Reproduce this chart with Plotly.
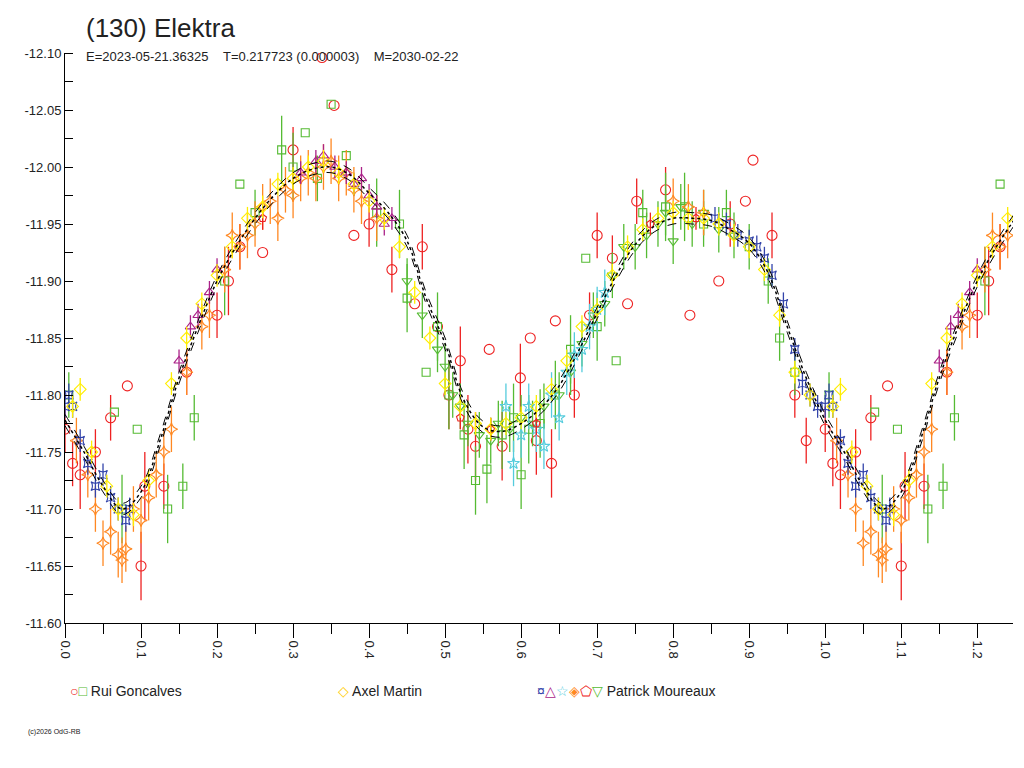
import plotly.graph_objects as go

FONT = "Liberation Sans"

# fitted curve
curve_ph = [0.0,0.025,0.05,0.075,0.1,0.125,0.15,0.175,0.2,0.225,0.25,0.275,0.3,0.325,0.35,0.375,0.4,0.425,0.45,0.475,0.5,0.525,0.55,0.575,0.6,0.625,0.65,0.675,0.7,0.725,0.75,0.775,0.8,0.825,0.85,0.875,0.9,0.925,0.95,0.975,1.0,1.025,1.05,1.075,1.1,1.125,1.15,1.175,1.2,1.225,1.25]
curve_mag = [-11.778,-11.750,-11.720,-11.700,-11.715,-11.760,-11.815,-11.860,-11.900,-11.930,-11.955,-11.975,-11.990,-11.998,-12.000,-11.993,-11.977,-11.960,-11.935,-11.885,-11.845,-11.795,-11.772,-11.768,-11.775,-11.788,-11.808,-11.838,-11.872,-11.905,-11.932,-11.948,-11.955,-11.955,-11.953,-11.945,-11.933,-11.907,-11.860,-11.815,-11.778,-11.750,-11.720,-11.700,-11.715,-11.760,-11.815,-11.860,-11.900,-11.930,-11.955]
env = 0.005

# Rui Goncalves - circles
rc_ph = [0.0,0.01,0.02,0.04,0.06,0.082,0.1,0.105,0.13,0.16,0.2,0.215,0.23,0.26,0.3,0.338,0.354,0.38,0.4,0.43,0.46,0.47,0.49,0.505,0.52,0.53,0.54,0.558,0.575,0.599,0.612,0.62,0.64,0.645,0.67,0.69,0.7,0.72,0.74,0.752,0.79,0.822,0.86,0.875,0.895,0.905,0.93,0.96,0.975]
rc_mag = [-11.77,-11.74,-11.73,-11.75,-11.78,-11.808,-11.65,-11.72,-11.72,-11.82,-11.87,-11.90,-11.93,-11.925,-12.015,-12.096,-12.054,-11.94,-11.95,-11.91,-11.88,-11.93,-11.86,-11.80,-11.83,-11.77,-11.755,-11.84,-11.755,-11.815,-11.85,-11.76,-11.74,-11.865,-11.80,-11.87,-11.94,-11.92,-11.88,-11.97,-11.98,-11.87,-11.90,-11.95,-11.97,-12.006,-11.94,-11.80,-11.76]
rc_err = [0.02,0.02,0.03,0.02,0.02,0.0,0.03,0.03,0.02,0.02,0.02,0.03,0.02,0.0,0.02,0.0,0.0,0.0,0.02,0.02,0.0,0.02,0.0,0.03,0.03,0.03,0.03,0.0,0.03,0.03,0.0,0.03,0.03,0.0,0.02,0.02,0.02,0.02,0.0,0.02,0.02,0.0,0.0,0.02,0.0,0.0,0.02,0.02,0.02]

# Rui Goncalves - squares
rs_ph = [0.005,0.065,0.075,0.095,0.135,0.155,0.17,0.21,0.23,0.25,0.285,0.3,0.316,0.332,0.35,0.37,0.41,0.44,0.45,0.475,0.49,0.505,0.525,0.54,0.555,0.575,0.59,0.6,0.61,0.625,0.645,0.665,0.685,0.7,0.725,0.76,0.79,0.815,0.84,0.87,0.9,0.925,0.94,0.96]
rs_mag = [-11.80,-11.785,-11.70,-11.77,-11.70,-11.72,-11.78,-11.90,-11.985,-11.96,-12.015,-12.0,-12.03,-11.99,-12.055,-12.01,-11.96,-11.95,-11.885,-11.82,-11.86,-11.80,-11.765,-11.725,-11.735,-11.765,-11.78,-11.73,-11.77,-11.775,-11.80,-11.84,-11.92,-11.86,-11.83,-11.96,-11.965,-11.965,-11.95,-11.96,-11.93,-11.90,-11.85,-11.82]
rs_err = [0.02,0.0,0.03,0.0,0.03,0.02,0.02,0.03,0.0,0.02,0.03,0.03,0.0,0.02,0.0,0.0,0.03,0.03,0.03,0.0,0.03,0.03,0.03,0.03,0.03,0.03,0.03,0.03,0.03,0.03,0.03,0.03,0.0,0.03,0.0,0.02,0.03,0.03,0.02,0.02,0.02,0.02,0.02,0.02]

# Axel Martin - diamonds
am_ph = [0.01,0.02,0.035,0.055,0.07,0.09,0.11,0.14,0.16,0.18,0.2,0.22,0.24,0.26,0.28,0.3,0.32,0.34,0.36,0.38,0.4,0.42,0.44,0.46,0.48,0.5,0.52,0.54,0.56,0.58,0.6,0.62,0.64,0.66,0.68,0.7,0.72,0.74,0.76,0.78,0.8,0.82,0.84,0.86,0.88,0.9,0.92,0.94,0.96,0.98]
am_mag = [-11.79,-11.805,-11.75,-11.72,-11.70,-11.695,-11.725,-11.81,-11.85,-11.88,-11.905,-11.93,-11.955,-11.965,-11.985,-11.99,-12.0,-12.005,-11.995,-11.985,-11.97,-11.955,-11.93,-11.89,-11.85,-11.81,-11.79,-11.775,-11.77,-11.775,-11.78,-11.79,-11.805,-11.83,-11.86,-11.875,-11.905,-11.93,-11.945,-11.955,-11.96,-11.955,-11.955,-11.95,-11.94,-11.93,-11.91,-11.87,-11.82,-11.80]
am_err = [0.01]*50

# Patrick Moureaux - six sessions
pb_ph = [0.0,0.005,0.01,0.02,0.03,0.04,0.05,0.06,0.07,0.08,0.085,0.855,0.87,0.885,0.9,0.91,0.92,0.93,0.945,0.96,0.97,0.98,0.99]
pb_mag = [-11.79,-11.80,-11.79,-11.76,-11.74,-11.72,-11.73,-11.71,-11.70,-11.69,-11.70,-11.955,-11.95,-11.94,-11.935,-11.93,-11.92,-11.905,-11.88,-11.84,-11.81,-11.80,-11.79]
pb_err = [0.01]*23

pp_ph = [0.15,0.165,0.175,0.19,0.2,0.31,0.33,0.34,0.355,0.37,0.38,0.39,0.4,0.41,0.42,0.43]
pp_mag = [-11.83,-11.86,-11.87,-11.89,-11.91,-11.995,-12.005,-12.01,-12.0,-11.995,-11.985,-11.99,-11.975,-11.965,-11.95,-11.955]
pp_err = [0.01]*16

pc_ph = [0.58,0.59,0.6,0.61,0.62,0.63,0.64,0.65,0.66,0.67,0.68,0.69,0.7,0.71]
pc_mag = [-11.79,-11.74,-11.765,-11.79,-11.77,-11.755,-11.80,-11.78,-11.82,-11.835,-11.84,-11.86,-11.875,-11.89]
pc_err = [0.02]*14

po_ph = [0.015,0.03,0.04,0.05,0.06,0.07,0.075,0.08,0.09,0.1,0.11,0.12,0.13,0.14,0.16,0.18,0.19,0.21,0.22,0.23,0.24,0.25,0.26,0.27,0.28,0.29,0.3,0.31,0.32,0.33,0.34,0.35,0.36,0.37,0.38,0.39,0.41,0.8,0.82,0.84]
po_mag = [-11.76,-11.73,-11.70,-11.67,-11.68,-11.66,-11.655,-11.665,-11.70,-11.69,-11.71,-11.73,-11.75,-11.77,-11.82,-11.86,-11.87,-11.91,-11.94,-11.93,-11.94,-11.95,-11.965,-11.97,-11.955,-11.98,-11.975,-11.99,-11.995,-11.99,-12.0,-12.005,-11.99,-11.995,-11.98,-11.97,-11.955,-11.97,-11.965,-11.96]
po_err = [0.02]*40

pr_ph = [0.26,0.52,0.56,0.62,0.77,0.83]
pr_mag = [-11.955,-11.78,-11.77,-11.775,-11.95,-11.955]
pr_err = [0.01]*6

pg_ph = [0.45,0.47,0.49,0.5,0.51,0.52,0.53,0.545,0.56,0.57,0.585,0.6,0.615,0.63,0.65,0.665,0.68,0.695,0.71,0.72,0.735,0.75,0.765,0.78,0.79,0.8,0.81,0.825,0.84,0.86,0.88]
pg_mag = [-11.90,-11.87,-11.84,-11.825,-11.80,-11.79,-11.775,-11.765,-11.76,-11.775,-11.77,-11.78,-11.775,-11.79,-11.80,-11.82,-11.845,-11.87,-11.88,-11.905,-11.93,-11.93,-11.94,-11.95,-11.96,-11.935,-11.965,-11.95,-11.96,-11.945,-11.94]
pg_err = [0.02]*31

series = [
    (rc_ph, rc_mag, rc_err, "circle-open", "#ee2222", 10),
    (rs_ph, rs_mag, rs_err, "square-open", "#55bb33", 8),
    (pg_ph, pg_mag, pg_err, "triangle-down-open", "#55bb33", 9),
    (po_ph, po_mag, po_err, "star-diamond-open", "#ff8822", 9),
    (pc_ph, pc_mag, pc_err, "star-open", "#55ccdd", 9),
    (pp_ph, pp_mag, pp_err, "triangle-up-open", "#aa2288", 9),
    (pb_ph, pb_mag, pb_err, "star-square-open", "#3344aa", 8),
    (pr_ph, pr_mag, pr_err, "pentagon-open", "#ee2222", 8),
    (am_ph, am_mag, am_err, "diamond-open", "#ffee00", 9),
]

fig = go.Figure()
for ph, mag, err, sym, col, sz in series:
    xs = list(ph) + [p + 1 for p in ph if p < 0.25]
    ys = list(mag) + [m for p, m in zip(ph, mag) if p < 0.25]
    es = list(err) + [e for p, e in zip(ph, err) if p < 0.25]
    fig.add_trace(go.Scatter(x=xs, y=ys, mode="markers",
        marker=dict(symbol=sym, color=col, size=sz, line=dict(width=1.1, color=col)),
        error_y=dict(type="data", array=es, visible=True, color=col, thickness=1.3, width=0),
        showlegend=False))

fig.add_trace(go.Scatter(x=curve_ph, y=[m - env for m in curve_mag], mode="lines",
    line=dict(color="#000000", width=1, dash="dash", shape="spline"), showlegend=False))
fig.add_trace(go.Scatter(x=curve_ph, y=[m + env for m in curve_mag], mode="lines",
    line=dict(color="#000000", width=1, dash="dash", shape="spline"), showlegend=False))
fig.add_trace(go.Scatter(x=curve_ph, y=curve_mag, mode="lines",
    line=dict(color="#000000", width=1.5, dash="dot", shape="spline"), showlegend=False))

fig.update_layout(
    width=1024, height=768, plot_bgcolor="white", paper_bgcolor="white",
    margin=dict(l=57, r=19, t=45, b=153, autoexpand=False),
    font=dict(family=FONT, color="#222222"),
    xaxis=dict(range=[0, 1.247], automargin=False, tickvals=[0,0.1,0.2,0.3,0.4,0.5,0.6,0.7,0.8,0.9,1.0,1.1,1.2],
               ticktext=["0.0","0.1","0.2","0.3","0.4","0.5","0.6","0.7","0.8","0.9","1.0","1.1","1.2"],
               tickangle=90, ticks="outside", ticklen=14, tickcolor="#000", showline=True, linecolor="#000",
               showgrid=False, zeroline=False, tickfont=dict(size=13),
               minor=dict(dtick=0.05, tick0=0, ticks="outside", ticklen=10, tickcolor="#000")),
    yaxis=dict(range=[-11.60, -12.10], automargin=False, tickvals=[-12.10,-12.05,-12.0,-11.95,-11.9,-11.85,-11.8,-11.75,-11.7,-11.65,-11.6],
               ticktext=["-12.10","-12.05","-12.00","-11.95","-11.90","-11.85","-11.80","-11.75","-11.70","-11.65","-11.60"],
               ticks="outside", ticklen=0, showline=True, linecolor="#000", showgrid=False, zeroline=False,
               tickfont=dict(size=13), minor=dict(dtick=0.025, ticks="inside", ticklen=8, tickcolor="#000")),
)

def py(page_y):
    return (615 - page_y) / 570

def px(page_x):
    return (page_x - 57) / 948

fig.add_annotation(xref="paper", yref="paper", x=px(76), y=py(20), xanchor="left", yanchor="middle",
    text="(130) Elektra", showarrow=False, font=dict(size=26, color="#222"))
fig.add_annotation(xref="paper", yref="paper", x=px(76), y=py(48), xanchor="left", yanchor="middle",
    text="E=2023-05-21.36325&nbsp;&nbsp;&nbsp;&nbsp;T=0.217723 (0.000003)&nbsp;&nbsp;&nbsp;&nbsp;M=2030-02-22",
    showarrow=False, font=dict(size=13, color="#222"))
fig.add_annotation(xref="paper", yref="paper", x=px(60), y=py(683), xanchor="left", yanchor="middle",
    text="<span style='color:#ee2222'>○</span><span style='color:#55bb33'>□</span> Rui Goncalves",
    showarrow=False, font=dict(size=14, color="#222"))
fig.add_annotation(xref="paper", yref="paper", x=px(328), y=py(683), xanchor="left", yanchor="middle",
    text="<span style='color:#ffcc00'>◇</span> Axel Martin", showarrow=False, font=dict(size=14, color="#222"))
fig.add_annotation(xref="paper", yref="paper", x=px(527), y=py(683), xanchor="left", yanchor="middle",
    text="<span style='color:#3344aa'>¤</span><span style='color:#aa2288'>△</span><span style='color:#55ccdd'>☆</span><span style='color:#ff8822'>◈</span><span style='color:#ee2222'>⬠</span><span style='color:#55bb33'>▽</span> Patrick Moureaux",
    showarrow=False, font=dict(size=14, color="#222"))
fig.add_annotation(xref="paper", yref="paper", x=px(18), y=py(724), xanchor="left", yanchor="middle",
    text="(c)2026 OdG-RB", showarrow=False, font=dict(size=7, color="#222"))

fig.write_html("out.html")
